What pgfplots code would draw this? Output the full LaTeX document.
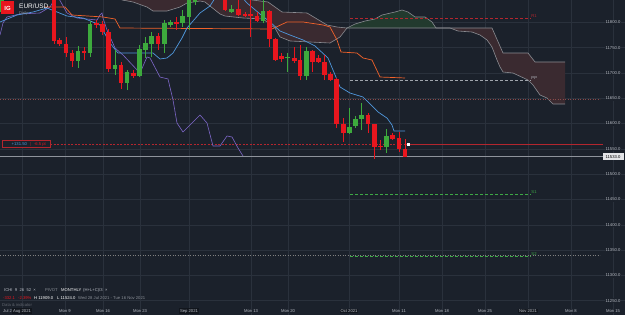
\documentclass[border=0pt]{standalone}
\usepackage{fontspec}
\setmainfont{Liberation Sans}
\usepackage{pgfplots}
\usepackage{pgfplotstable}
\pgfplotsset{compat=1.18}
\definecolor{bg}{HTML}{1B212B}
\definecolor{gridc}{HTML}{2A313C}
\definecolor{boxc}{HTML}{12161D}
\definecolor{cred}{HTML}{E8161E}
\definecolor{cgreen}{HTML}{3DAA3D}
\definecolor{corange}{HTML}{F2622A}
\definecolor{cblue}{HTML}{4F97DB}
\definecolor{cpurple}{HTML}{7E67C9}
\definecolor{cloudred}{HTML}{3A2A30}
\definecolor{cloudgreen}{HTML}{223A2E}
\definecolor{cloudline}{HTML}{8A8C92}
\definecolor{lab}{HTML}{B8BCC4}
\definecolor{pricel}{HTML}{8E939B}
\definecolor{pivred}{HTML}{B3262E}
\definecolor{pivgreen}{HTML}{3DA845}
\definecolor{dotbrown}{HTML}{8B4A4A}
\newcommand\mlab[1]{{\setlength\fboxsep{1bp}\colorbox{boxc}{#1}}}
\newcommand\fs{\fontsize{4.2}{5}\selectfont}

\pgfplotstableread{
x o h l c
54 11853.9 11863.8 11757.1 11763.1
59.5 11765.1 11769.0 11753.2 11757.1
66 11757.1 11771.0 11731.4 11739.3
72 11739.3 11745.3 11711.7 11723.6
84 11743.3 11751.2 11725.5 11739.3
96.5 11798.6 11804.5 11788.7 11794.7
102.5 11796.6 11802.5 11774.9 11780.8
108.5 11780.8 11786.8 11701.8 11707.7
121 11715.6 11721.6 11668.2 11680.1
133.5 11699.8 11705.8 11690.0 11693.9
158 11772.9 11778.9 11745.3 11757.1
176.5 11800.6 11810.5 11784.8 11797.6
225 11853.9 11863.8 11822.3 11824.3
238.5 11826.3 11844.1 11812.4 11814.4
245 11815.4 11820.3 11810.5 11813.4
250.5 11815.4 11844.1 11771.0 11813.4
257 11812.4 11820.3 11800.6 11802.5
269.5 11822.3 11824.3 11751.2 11767.0
275.5 11767.0 11769.0 11723.6 11725.5
281.5 11733.4 11739.3 11721.6 11727.5
294.5 11729.5 11751.2 11719.6 11723.6
300 11725.5 11755.2 11686.0 11693.9
312.5 11743.3 11745.3 11701.8 11721.6
318.5 11729.5 11735.4 11719.6 11721.6
324.5 11721.6 11735.4 11686.0 11695.9
330.5 11697.9 11701.8 11684.0 11686.0
336.5 11688.0 11690.0 11591.2 11599.1
343.5 11599.1 11610.9 11563.5 11581.3
368 11616.9 11620.8 11581.3 11599.1
374.5 11599.1 11599.1 11530.0 11553.7
380.5 11555.6 11567.5 11547.7 11553.7
392.5 11577.4 11581.3 11567.5 11569.4
399 11571.4 11583.3 11543.8 11549.7
405 11549.7 11569.4 11533.9 11534.5
}\redc

\pgfplotstableread{
x o h l c
2 11820.3 11863.8 11816.4 11853.9
78 11723.6 11753.2 11709.7 11743.3
90 11739.3 11802.5 11731.4 11796.6
115 11707.7 11745.3 11695.9 11715.6
127 11680.1 11705.8 11666.2 11701.8
139.5 11693.9 11755.2 11691.9 11747.2
145.5 11745.3 11771.0 11729.5 11759.1
151.5 11757.1 11780.8 11731.4 11772.9
164.5 11757.1 11804.5 11739.3 11798.6
170.5 11794.7 11804.5 11790.7 11800.6
182.5 11798.6 11824.3 11790.7 11812.4
189 11810.5 11863.8 11784.8 11853.9
195 11840.1 11863.8 11834.2 11853.9
231.5 11820.3 11834.2 11818.4 11826.3
263 11802.5 11844.1 11798.6 11822.3
287.5 11728.5 11739.3 11701.8 11730.5
306.5 11693.9 11751.2 11686.0 11743.3
349.5 11581.3 11630.7 11579.3 11593.2
355.5 11595.1 11614.9 11591.2 11609.0
361.5 11609.0 11640.6 11587.2 11616.9
386.5 11553.7 11589.2 11541.8 11575.4
}\greenc

\begin{document}
\begin{tikzpicture}
\begin{axis}[
  at={(0,0)}, anchor=south west,
  width=625bp, height=315bp, scale only axis,
  xmin=0, xmax=625, ymin=11221.77, ymax=11844.05,
  axis background/.style={fill=bg},
  axis line style={draw=none},
  major tick length=0pt,
  grid=major, major grid style={draw=gridc, line width=0.5bp},
  xtick={22,65,103,140,189,251,288,349,399,442,485,528,571,613},
  xticklabels={\mlab{Aug 2021},Mon 9,Mon 16,Mon 23,\mlab{Sep 2021},Mon 13,Mon 20,\mlab{Oct 2021},Mon 11,Mon 18,Mon 25,\mlab{Nov 2021},Mon 8,Mon 15},
  ytick={11250,11300,11350,11400,11450,11500,11550,11600,11650,11700,11750,11800},
  yticklabels={11250.0,11300.0,11350.0,11400.0,11450.0,11500.0,11550.0,11600.0,11650.0,11700.0,11750.0,11800.0},
  yticklabel pos=right,
  yticklabel style={anchor=center, xshift=-12bp, fill=bg, inner sep=1bp, text=lab, font=\fs},
  xticklabel style={anchor=center, yshift=4bp, fill=bg, inner sep=0.5bp, text=lab, font=\fs},
]
% cloud fills
\addplot[fill=cloudred, draw=none] coordinates {(118,11873.7) (122,11844.1) (133,11840.1) (147,11830.2) (153,11822.3) (167,11822.3) (180,11830.2) (187,11838.1) (200,11842.1) (205,11840.1) (210,11832.2) (220,11816.4) (225,11812.4) (243,11808.5) (263,11806.5) (275,11788.7) (280,11771.0) (290,11763.1) (310,11761.1) (330,11759.1) (340,11771.0) (347,11788.7) (337,11790.7) (327,11794.7) (307,11818.4) (282,11820.3) (268,11840.1) (252,11844.1) (248,11850.0) (240,11883.6) (118,11883.6)} -- cycle;
\addplot[fill=cloudgreen, draw=none] coordinates {(347,11788.7) (355,11796.6) (365,11802.5) (375,11806.5) (382,11814.4) (395,11820.3) (402,11824.3) (408,11820.3) (415,11810.5) (425,11810.5) (432,11800.6) (436,11788.7)} -- cycle;
\addplot[fill=cloudred, draw=none] coordinates {(436,11788.7) (450,11788.7) (458,11782.8) (472,11780.8) (480,11774.9) (487,11765.1) (492,11751.2) (497,11725.5) (500,11711.7) (503,11701.8) (513,11699.8) (528,11686.0) (533,11676.1) (540,11656.4) (547,11650.4) (553,11638.6) (565,11638.6) (565,11721.6) (535,11721.6) (528,11739.3) (503,11739.3) (492,11788.7)} -- cycle;
% cloud lines
\addplot[cloudline, line width=0.6bp] coordinates {(118,11873.7) (122,11844.1) (133,11840.1) (147,11830.2) (153,11822.3) (167,11822.3) (180,11830.2) (187,11838.1) (200,11842.1) (205,11840.1) (210,11832.2) (220,11816.4) (225,11812.4) (243,11808.5) (263,11806.5) (275,11788.7) (280,11771.0) (290,11763.1) (310,11761.1) (330,11759.1) (340,11771.0) (347,11788.7) (355,11796.6) (365,11802.5) (375,11806.5) (382,11814.4) (395,11820.3) (402,11824.3) (408,11820.3) (415,11810.5) (425,11810.5) (432,11800.6) (436,11788.7) (450,11788.7) (458,11782.8) (472,11780.8) (480,11774.9) (487,11765.1) (492,11751.2) (497,11725.5) (500,11711.7) (503,11701.8) (513,11699.8) (528,11686.0) (533,11676.1) (540,11656.4) (547,11650.4) (553,11638.6) (565,11638.6)};
\addplot[cloudline, line width=0.6bp] coordinates {(118,11883.6) (240,11883.6) (248,11850.0) (252,11844.1) (268,11840.1) (282,11820.3) (307,11818.4) (327,11794.7) (337,11790.7) (347,11788.7) (492,11788.7) (503,11739.3) (528,11739.3) (535,11721.6) (565,11721.6)};
% horizontal reference lines
\addplot[dotbrown, line width=0.5bp, dash pattern=on 1bp off 1.5bp] coordinates {(0,11648.5) (600,11648.5)};
\addplot[gray, line width=0.5bp, dash pattern=on 1bp off 1.5bp] coordinates {(0,11340.3) (600,11340.3)};
\addplot[pivred, line width=0.6bp, dash pattern=on 3bp off 2bp] coordinates {(350,11808.0) (531,11808.0)};
\addplot[lab!85!bg, line width=0.6bp, dash pattern=on 3bp off 2bp] coordinates {(350,11686.0) (531,11686.0)};
\addplot[pivgreen, line width=0.6bp, dash pattern=on 3bp off 2bp] coordinates {(350,11460.2) (531,11460.2)};
\addplot[pivgreen, line width=0.6bp, dash pattern=on 3bp off 2bp] coordinates {(350,11338.3) (531,11338.3)};
\addplot[pivred, line width=0.6bp, dash pattern=on 2bp off 1.5bp] coordinates {(50,11559.0) (405,11559.0)};
\addplot[pivred, line width=0.6bp] coordinates {(405,11559.0) (603,11559.0)};
\addplot[pricel, line width=0.6bp] coordinates {(0,11534.5) (603,11534.5)};
% ichimoku lines
\addplot[cpurple, line width=0.6bp] coordinates {(0,11774.9) (3,11798.6) (7,11810.5) (20,11816.4) (40,11818.4) (50,11830.2) (56,11850.0) (58,11850.0) (67,11818.4) (77,11808.5) (97,11804.5) (100,11814.4) (102,11818.4) (103,11808.5) (107,11784.8) (115,11749.2) (123,11735.4) (140,11699.8) (147,11731.5) (150,11729.5) (160,11691.9) (168,11688.0) (173,11646.5) (177,11601.0) (183,11583.3) (200,11616.9) (207,11601.0) (213,11555.6) (220,11555.6) (227,11575.4) (232,11573.4) (238,11551.7) (243,11535.9)};
\addplot[corange, line width=0.7bp] coordinates {(45,11830.2) (65,11830.2) (72,11814.4) (103,11810.5) (115,11806.5) (120,11788.7) (272,11786.8) (287,11800.6) (303,11800.6) (323,11794.7) (330,11790.7) (337,11765.1) (341,11741.3) (357,11739.3) (363,11729.5) (372,11725.5) (380,11691.9) (405,11690.0)};
\addplot[cblue, line width=0.7bp] coordinates {(0,11800.6) (17,11814.4) (33,11820.3) (47,11828.2) (67,11812.4) (83,11808.5) (100,11794.7) (110,11759.1) (118,11739.3) (153,11739.3) (160,11727.5) (167,11729.5) (173,11739.3) (182,11769.0) (187,11788.7) (200,11818.4) (210,11832.2) (217,11853.9) (240,11853.9) (247,11838.1) (260,11816.4) (270,11800.6) (280,11782.8) (290,11774.9) (303,11765.1) (315,11753.2) (328,11729.5) (333,11705.8) (340,11672.2) (350,11660.3) (363,11652.4) (373,11632.7) (378,11622.8) (387,11610.9) (392,11597.1) (394,11585.3) (405,11585.3)};
% candles: wicks and bodies
\addplot[draw=none, mark=none, error bars/.cd, y dir=plus, y explicit, error mark=none, error bar style={draw=cred, line width=0.7bp}] table[x=x, y=l, y error expr=\thisrow{h}-\thisrow{l}] {\redc};
\addplot[draw=none, mark=none, error bars/.cd, y dir=plus, y explicit, error mark=none, error bar style={draw=cred, line width=4.6bp}] table[x=x, y=c, y error expr=\thisrow{o}-\thisrow{c}] {\redc};
\addplot[draw=none, mark=none, error bars/.cd, y dir=plus, y explicit, error mark=none, error bar style={draw=cgreen, line width=0.7bp}] table[x=x, y=l, y error expr=\thisrow{h}-\thisrow{l}] {\greenc};
\addplot[draw=none, mark=none, error bars/.cd, y dir=plus, y explicit, error mark=none, error bar style={draw=cgreen, line width=4.6bp}] table[x=x, y=o, y error expr=\thisrow{c}-\thisrow{o}] {\greenc};
\addplot[only marks, mark=square*, mark size=0.9bp, white] coordinates {(408,11559.0)};
% texts
\node[fill=cred, text=white, font=\fontsize{6}{7}\bfseries, minimum size=13bp, inner sep=0pt] at (rel axis cs:0.0120,0.9746) {IG};
\node[anchor=west, text=white, font=\fontsize{6.5}{7}\selectfont, inner sep=0pt] at (rel axis cs:0.0304,0.9810) {EUR/USD};
\node[anchor=west, text=lab!70!bg, font=\fontsize{4}{5}\selectfont, inner sep=0pt] at (rel axis cs:0.0304,0.9587) {Daily};
\node[anchor=west, draw=pivred, fill=bg, line width=0.6bp, minimum width=48bp, minimum height=7bp, inner sep=1bp, font=\fs] at (rel axis cs:0.0032,0.5419) {\hspace{5bp}{\color{cblue}+131.50}\hspace{3bp}{\color{pivred}|}\hspace{3bp}{\color{cred}-6.5 pt}};
\node[fill=lab!40!white, text=black, font=\fs, minimum width=21bp, minimum height=7bp, inner sep=0.5bp] at (rel axis cs:0.9808,0.5025) {11533.0};
\node[anchor=west, text=pivred, font=\fs, inner sep=0pt] at (rel axis cs:0.8500,0.9492) {R1};
\node[anchor=west, text=lab, font=\fs, inner sep=0pt] at (rel axis cs:0.8500,0.7524) {PP};
\node[anchor=west, text=pivgreen, font=\fs, inner sep=0pt] at (rel axis cs:0.8500,0.3905) {S1};
\node[anchor=west, text=pivgreen, font=\fs, inner sep=0pt] at (rel axis cs:0.8500,0.1937) {S2};
\node[anchor=west, text=lab, font=\fs, inner sep=0pt] at (rel axis cs:0.0048,0.0127) {Jul 2};
\node[anchor=west, text=lab, font=\fs, inner sep=0pt] at (rel axis cs:0.0064,0.0794) {ICHI\ \ 9\ \ 26\ \ 52\ \ ×};
\node[anchor=west, text=lab!70!bg, font=\fs, inner sep=0pt] at (rel axis cs:0.0720,0.0794) {PIVOT};
\node[anchor=west, text=white, font=\fs, inner sep=0pt] at (rel axis cs:0.0976,0.0794) {MONTHLY};
\node[anchor=west, text=lab, font=\fs, inner sep=0pt] at (rel axis cs:0.1328,0.0794) {(H+L+C)/3\ \ ×};
\node[anchor=west, text=cred, font=\fs, inner sep=0pt] at (rel axis cs:0.0048,0.0540) {-332.1};
\node[anchor=west, text=cred, font=\fs, inner sep=0pt] at (rel axis cs:0.0288,0.0540) {-2.39\%};
\node[anchor=west, text=white, font=\fs, inner sep=0pt] at (rel axis cs:0.0544,0.0540) {H 11909.0};
\node[anchor=west, text=white, font=\fs, inner sep=0pt] at (rel axis cs:0.0912,0.0540) {L 11524.0};
\node[anchor=west, text=lab!70!bg, font=\fs, inner sep=0pt] at (rel axis cs:0.1248,0.0540) {Wed 28 Jul 2021 - Tue 16 Nov 2021};
\node[anchor=west, text=lab!45!bg, font=\fs, inner sep=0pt] at (rel axis cs:0.0032,0.0317) {Data \& indicator};
\end{axis}
\pgfresetboundingbox
\path[use as bounding box] (0,0) rectangle (625bp,315bp);
\end{tikzpicture}
\end{document}
